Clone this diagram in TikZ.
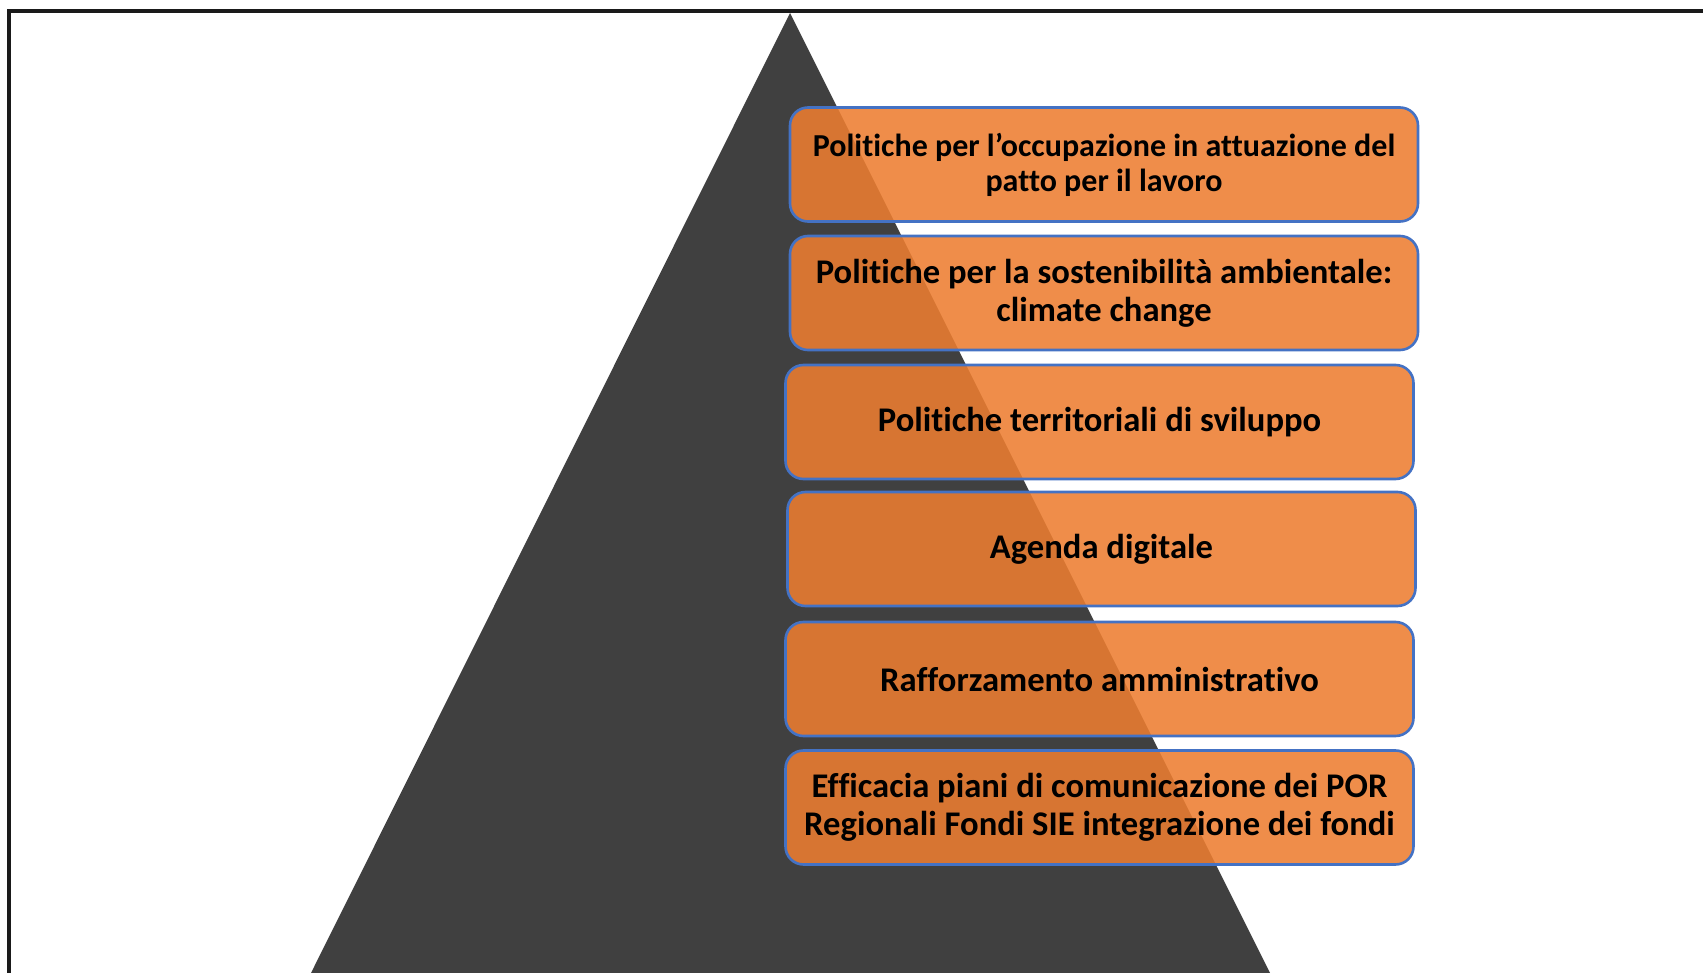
\documentclass[tikz,border=0pt]{standalone}
\usepackage{fontspec}
\setmainfont{Carlito}[Ligatures=NoCommon]
\definecolor{tri}{HTML}{404040}
\definecolor{org}{HTML}{ED7D31}
\definecolor{bord}{HTML}{4472C4}
\definecolor{frame}{HTML}{1A1A1A}
\begin{document}
\begin{tikzpicture}[x=0.5pt,y=-0.5pt,
  pbox/.style={draw=bord, line width=1.3pt, fill=org, fill opacity=0.88, text opacity=1,
    rounded corners=9pt, minimum width=314pt, minimum height=57pt, align=center,
    font=\bfseries\fontsize{17.3}{19}\selectfont, text=black, inner sep=0pt}]
\useasboundingbox (0,0) rectangle (1703,973);
\begin{scope}
\clip (0,0) rectangle (1703,973);
\fill[tri] (790,13) -- (311,973) -- (1270,973) -- cycle;
\end{scope}
\coordinate (fl) at (9,973);
\coordinate (fc) at (9,11);
\coordinate (fr) at (1703,11);
\draw[frame, line width=1.8pt] (fl) -- (fc) -- (fr);
\node[pbox, font=\bfseries\fontsize{16}{17.4}\selectfont] (b1) at (1104,164.5) {Politiche per l’occupazione in attuazione del\\patto per il lavoro};
\node[pbox] (b2) at (1104,293) {Politiche per la sostenibilità ambientale:\\climate change};
\node[pbox] (b3) at (1099.5,422) {Politiche territoriali di sviluppo};
\node[pbox] (b4) at (1101.5,549) {Agenda digitale};
\node[pbox] (b5) at (1099.5,679) {Rafforzamento amministrativo};
\node[pbox] (b6) at (1099.5,807.5) {Efficacia piani di comunicazione dei POR\\Regionali Fondi SIE integrazione dei fondi};
\end{tikzpicture}
\end{document}
